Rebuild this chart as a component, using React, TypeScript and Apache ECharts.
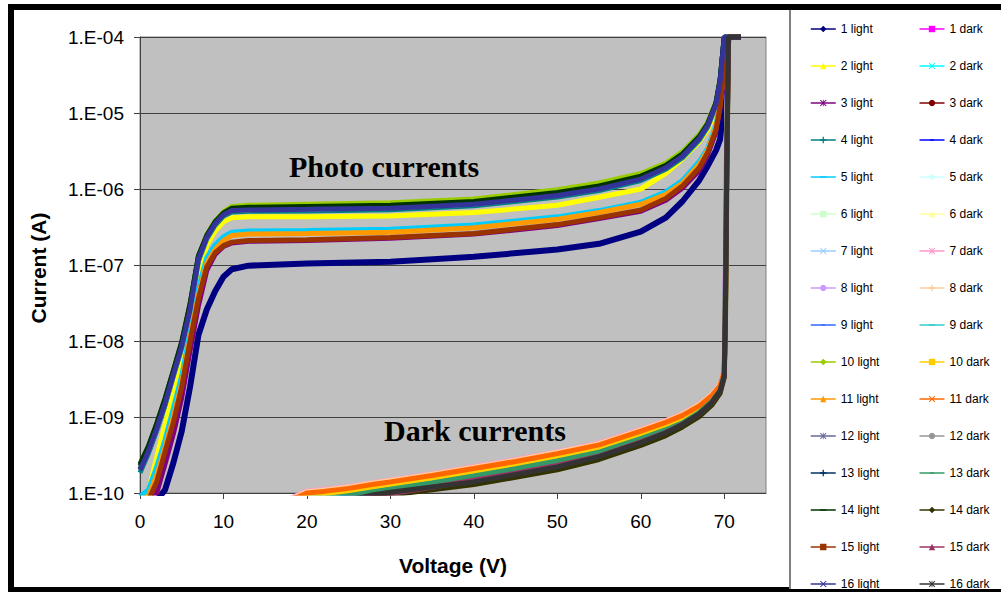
import React, { useEffect, useRef } from 'react';
import * as echarts from 'echarts';

// Voltage samples (V)
const lightV = [0, 1, 2, 3, 4, 5, 6, 7, 8, 9, 10, 11, 13, 20, 30, 40, 50, 55, 60, 63, 65, 67, 68, 69, 69.5, 70, 70.5, 72];
const darkV = [18, 20, 22, 25, 28, 30, 35, 40, 45, 50, 55, 60, 63, 65, 67, 68.5, 69.5, 70, 70.15, 70.3, 70.5, 72];

// Photo (light) currents, A
const light1 = [5e-11, 6e-11, 8e-11, 1.1e-10, 2.5e-10, 6.5e-10, 2.5e-9, 1.2e-8, 2.6e-8, 4.5e-8, 7e-8, 8.8e-8, 9.8e-8, 1.05e-7, 1.1e-7, 1.28e-7, 1.6e-7, 1.9e-7, 2.75e-7, 4.2e-7, 6.9e-7, 1.3e-6, 2e-6, 3.2e-6, 4.5e-6, 1.5e-5, 1e-4, 1e-4];
const light2 = [8e-11, 1.05e-10, 3e-10, 8e-10, 2.2e-9, 6e-9, 2e-8, 8e-8, 1.8e-7, 2.8e-7, 3.7e-7, 4.2e-7, 4.3e-7, 4.3e-7, 4.4e-7, 4.9e-7, 6.1e-7, 7.8e-7, 1e-6, 1.6e-6, 2.5e-6, 4.2e-6, 6e-6, 1.1e-5, 2.2e-5, 8e-5, 1e-4, 1e-4];
const light3 = [6e-11, 7e-11, 1e-10, 2.4e-10, 6e-10, 1.8e-9, 7.5e-9, 2.9e-8, 8.5e-8, 1.38e-7, 1.75e-7, 1.95e-7, 2.05e-7, 2.1e-7, 2.25e-7, 2.55e-7, 3.3e-7, 4.1e-7, 5.1e-7, 7.1e-7, 1.03e-6, 1.75e-6, 2.8e-6, 5.6e-6, 1.15e-5, 3.8e-5, 1e-4, 1e-4];
const light4 = [1.85e-10, 3.3e-10, 6.6e-10, 1.42e-9, 3.45e-9, 8.1e-9, 2.5e-8, 1.13e-7, 2.2e-7, 3.33e-7, 4.4e-7, 4.98e-7, 5.08e-7, 5.15e-7, 5.35e-7, 6.02e-7, 7.83e-7, 9.55e-7, 1.29e-6, 1.82e-6, 2.58e-6, 4.4e-6, 6.5e-6, 1.24e-5, 2.48e-5, 1e-4, 1e-4, 1e-4];
const light5 = [9e-11, 1.1e-10, 2.2e-10, 5e-10, 1.3e-9, 3.5e-9, 1.3e-8, 5e-8, 1.25e-7, 1.85e-7, 2.35e-7, 2.7e-7, 2.8e-7, 2.85e-7, 2.95e-7, 3.35e-7, 4.3e-7, 5.2e-7, 6.7e-7, 9.2e-7, 1.3e-6, 2.3e-6, 3.4e-6, 6.9e-6, 1.4e-5, 4.4e-5, 1e-4, 1e-4];
const light6 = [2.05e-10, 3.6e-10, 7.2e-10, 1.55e-9, 3.7e-9, 8.7e-9, 2.65e-8, 1.23e-7, 2.35e-7, 3.57e-7, 4.7e-7, 5.3e-7, 5.4e-7, 5.5e-7, 5.72e-7, 6.42e-7, 8.4e-7, 1.02e-6, 1.38e-6, 1.94e-6, 2.76e-6, 4.7e-6, 6.9e-6, 1.32e-5, 2.65e-5, 1e-4, 1e-4, 1e-4];
const light7 = [2.05e-10, 3.55e-10, 7.1e-10, 1.52e-9, 3.65e-9, 8.6e-9, 2.62e-8, 1.21e-7, 2.32e-7, 3.53e-7, 4.65e-7, 5.25e-7, 5.35e-7, 5.45e-7, 5.66e-7, 6.36e-7, 8.3e-7, 1.01e-6, 1.37e-6, 1.92e-6, 2.73e-6, 4.65e-6, 6.85e-6, 1.31e-5, 2.62e-5, 1e-4, 1e-4, 1e-4];
const light8 = [2.08e-10, 3.62e-10, 7.25e-10, 1.56e-9, 3.72e-9, 8.75e-9, 2.68e-8, 1.24e-7, 2.36e-7, 3.58e-7, 4.72e-7, 5.32e-7, 5.42e-7, 5.52e-7, 5.75e-7, 6.45e-7, 8.45e-7, 1.03e-6, 1.39e-6, 1.95e-6, 2.78e-6, 4.72e-6, 6.95e-6, 1.33e-5, 2.66e-5, 1e-4, 1e-4, 1e-4];
const light9 = [2.1e-10, 3.6e-10, 7.1e-10, 1.55e-9, 3.7e-9, 8.7e-9, 2.7e-8, 1.22e-7, 2.35e-7, 3.6e-7, 4.7e-7, 5.35e-7, 5.45e-7, 5.55e-7, 5.8e-7, 6.5e-7, 8.5e-7, 1.04e-6, 1.4e-6, 1.95e-6, 2.8e-6, 4.7e-6, 6.9e-6, 1.32e-5, 2.65e-5, 1e-4, 1e-4, 1e-4];
const light10 = [2.2e-10, 3.8e-10, 7.5e-10, 1.6e-9, 3.8e-9, 9e-9, 2.8e-8, 1.3e-7, 2.5e-7, 3.8e-7, 5e-7, 5.9e-7, 6.1e-7, 6.3e-7, 6.6e-7, 7.4e-7, 9.8e-7, 1.2e-6, 1.6e-6, 2.2e-6, 3.1e-6, 5.2e-6, 7.5e-6, 1.4e-5, 2.8e-5, 1e-4, 1e-4, 1e-4];
const light11 = [8e-11, 9e-11, 1.7e-10, 4e-10, 1e-9, 2.8e-9, 1.1e-8, 4e-8, 1.05e-7, 1.6e-7, 2.1e-7, 2.45e-7, 2.55e-7, 2.6e-7, 2.7e-7, 3.1e-7, 4e-7, 4.9e-7, 6.3e-7, 8.5e-7, 1.2e-6, 2.1e-6, 3.2e-6, 6.5e-6, 1.3e-5, 4e-5, 1e-4, 1e-4];
const light12 = [2.1e-10, 3.7e-10, 7.3e-10, 1.6e-9, 3.8e-9, 8.9e-9, 2.75e-8, 1.24e-7, 2.35e-7, 3.55e-7, 4.65e-7, 5.3e-7, 5.4e-7, 5.5e-7, 5.7e-7, 6.4e-7, 8.3e-7, 1.02e-6, 1.38e-6, 1.92e-6, 2.75e-6, 4.65e-6, 6.9e-6, 1.3e-5, 2.6e-5, 1e-4, 1e-4, 1e-4];
const light13 = [2.3e-10, 4e-10, 8e-10, 1.7e-9, 4e-9, 9.5e-9, 3e-8, 1.3e-7, 2.4e-7, 3.6e-7, 4.7e-7, 5.3e-7, 5.4e-7, 5.5e-7, 5.7e-7, 6.4e-7, 8.3e-7, 1.03e-6, 1.38e-6, 1.93e-6, 2.77e-6, 4.7e-6, 7e-6, 1.35e-5, 2.7e-5, 1e-4, 1e-4, 1e-4];
const light14 = [2.4e-10, 4.1e-10, 8.2e-10, 1.75e-9, 4.1e-9, 9.8e-9, 3.1e-8, 1.32e-7, 2.45e-7, 3.7e-7, 4.85e-7, 5.6e-7, 5.75e-7, 5.9e-7, 6.1e-7, 6.85e-7, 9e-7, 1.1e-6, 1.48e-6, 2.05e-6, 2.9e-6, 4.9e-6, 7.2e-6, 1.35e-5, 2.7e-5, 1e-4, 1e-4, 1e-4];
const light15 = [7e-11, 8e-11, 1.4e-10, 3.5e-10, 8.5e-10, 2.5e-9, 1e-8, 3.6e-8, 9.5e-8, 1.45e-7, 1.8e-7, 2e-7, 2.1e-7, 2.15e-7, 2.3e-7, 2.6e-7, 3.4e-7, 4.2e-7, 5.3e-7, 7.5e-7, 1.1e-6, 1.9e-6, 3e-6, 6e-6, 1.2e-5, 4e-5, 1e-4, 1e-4];
const light16 = [2e-10, 3.5e-10, 7e-10, 1.5e-9, 3.6e-9, 8.5e-9, 2.6e-8, 1.2e-7, 2.3e-7, 3.5e-7, 4.6e-7, 5.2e-7, 5.3e-7, 5.4e-7, 5.6e-7, 6.3e-7, 8.2e-7, 1e-6, 1.35e-6, 1.9e-6, 2.7e-6, 4.6e-6, 6.8e-6, 1.3e-5, 2.6e-5, 1e-4, 1e-4, 1e-4];

// Dark currents, A
const dark1 = [8.2e-11, 1.02e-10, 1.07e-10, 1.17e-10, 1.33e-10, 1.43e-10, 1.73e-10, 2.14e-10, 2.65e-10, 3.37e-10, 4.39e-10, 6.63e-10, 8.67e-10, 1.07e-9, 1.43e-9, 1.94e-9, 2.65e-9, 4.1e-9, 1e-7, 8e-6, 1e-4, 1e-4];
const dark2 = [7.8e-11, 9.8e-11, 1.03e-10, 1.13e-10, 1.27e-10, 1.37e-10, 1.67e-10, 2.06e-10, 2.55e-10, 3.23e-10, 4.21e-10, 6.37e-10, 8.33e-10, 1.03e-9, 1.37e-9, 1.86e-9, 2.55e-9, 3.9e-9, 7e-8, 5e-6, 1e-4, 1e-4];
const dark3 = [5.8e-11, 7.2e-11, 7.6e-11, 8.3e-11, 9.4e-11, 1.01e-10, 1.22e-10, 1.51e-10, 1.87e-10, 2.38e-10, 3.1e-10, 4.75e-10, 6.4e-10, 8.1e-10, 1.11e-9, 1.56e-9, 2.2e-9, 3.5e-9, 5e-8, 3e-6, 1e-4, 1e-4];
const dark4 = [6.2e-11, 7.7e-11, 8.1e-11, 8.9e-11, 1e-10, 1.08e-10, 1.31e-10, 1.62e-10, 2e-10, 2.54e-10, 3.3e-10, 5e-10, 6.6e-10, 8.3e-10, 1.13e-9, 1.58e-9, 2.25e-9, 3.6e-9, 3e-8, 2e-6, 1e-4, 1e-4];
const dark5 = [7.2e-11, 9e-11, 9.5e-11, 1.04e-10, 1.17e-10, 1.26e-10, 1.53e-10, 1.89e-10, 2.34e-10, 2.97e-10, 3.87e-10, 5.85e-10, 7.65e-10, 9.45e-10, 1.26e-9, 1.71e-9, 2.34e-9, 3.6e-9, 5e-8, 6e-6, 1e-4, 1e-4];
const dark6 = [7.7e-11, 9.6e-11, 1.01e-10, 1.1e-10, 1.25e-10, 1.34e-10, 1.63e-10, 2.02e-10, 2.5e-10, 3.17e-10, 4.13e-10, 6.24e-10, 8.16e-10, 1.01e-9, 1.34e-9, 1.82e-9, 2.5e-9, 3.8e-9, 3e-8, 1.5e-6, 1e-4, 1e-4];
const dark7 = [8.5e-11, 1.06e-10, 1.11e-10, 1.22e-10, 1.38e-10, 1.48e-10, 1.8e-10, 2.23e-10, 2.76e-10, 3.5e-10, 4.56e-10, 6.9e-10, 9e-10, 1.11e-9, 1.48e-9, 2e-9, 2.7e-9, 4.2e-9, 6e-8, 4e-6, 1e-4, 1e-4];
const dark8 = [8.3e-11, 1.04e-10, 1.09e-10, 1.2e-10, 1.35e-10, 1.46e-10, 1.77e-10, 2.18e-10, 2.7e-10, 3.43e-10, 4.47e-10, 6.76e-10, 8.84e-10, 1.09e-9, 1.46e-9, 1.98e-9, 2.7e-9, 4.1e-9, 4e-8, 2e-6, 1e-4, 1e-4];
const dark9 = [6.8e-11, 8.5e-11, 8.9e-11, 9.8e-11, 1.1e-10, 1.19e-10, 1.45e-10, 1.79e-10, 2.21e-10, 2.8e-10, 3.66e-10, 5.5e-10, 7.2e-10, 8.9e-10, 1.19e-9, 1.62e-9, 2.3e-9, 3.6e-9, 4e-8, 2.5e-6, 1e-4, 1e-4];
const dark10 = [7.4e-11, 9.2e-11, 9.7e-11, 1.06e-10, 1.2e-10, 1.29e-10, 1.56e-10, 1.93e-10, 2.39e-10, 3.04e-10, 3.96e-10, 5.98e-10, 7.82e-10, 9.7e-10, 1.29e-9, 1.75e-9, 2.4e-9, 3.7e-9, 2e-8, 3e-6, 1e-4, 1e-4];
const dark11 = [8e-11, 1e-10, 1.05e-10, 1.15e-10, 1.3e-10, 1.4e-10, 1.7e-10, 2.1e-10, 2.6e-10, 3.3e-10, 4.3e-10, 6.5e-10, 8.5e-10, 1.05e-9, 1.4e-9, 1.9e-9, 2.6e-9, 4e-9, 5e-8, 3e-6, 1e-4, 1e-4];
const dark12 = [6e-11, 7.5e-11, 7.9e-11, 8.6e-11, 9.8e-11, 1.05e-10, 1.28e-10, 1.58e-10, 1.95e-10, 2.48e-10, 3.23e-10, 4.9e-10, 6.5e-10, 8.2e-10, 1.12e-9, 1.57e-9, 2.22e-9, 3.5e-9, 8e-8, 6e-6, 1e-4, 1e-4];
const dark13 = [6.4e-11, 8e-11, 8.4e-11, 9.2e-11, 1.04e-10, 1.12e-10, 1.36e-10, 1.68e-10, 2.08e-10, 2.64e-10, 3.44e-10, 5.2e-10, 6.8e-10, 8.4e-10, 1.15e-9, 1.6e-9, 2.25e-9, 3.6e-9, 6e-8, 4e-6, 1e-4, 1e-4];
const dark14 = [4.6e-11, 5.5e-11, 6.4e-11, 7.4e-11, 8.7e-11, 9.4e-11, 1.1e-10, 1.29e-10, 1.61e-10, 2.02e-10, 2.76e-10, 4.23e-10, 5.7e-10, 7.4e-10, 1.01e-9, 1.43e-9, 2.05e-9, 3.3e-9, 2e-8, 1e-6, 1e-4, 1e-4];
const dark15 = [5.6e-11, 7e-11, 7.4e-11, 8.1e-11, 9.1e-11, 9.8e-11, 1.19e-10, 1.47e-10, 1.82e-10, 2.31e-10, 3.05e-10, 4.7e-10, 6.3e-10, 8.05e-10, 1.1e-9, 1.55e-9, 2.2e-9, 3.5e-9, 4e-8, 2.5e-6, 1e-4, 1e-4];
const dark16 = [5e-11, 6e-11, 7e-11, 8e-11, 9.5e-11, 1.02e-10, 1.2e-10, 1.4e-10, 1.75e-10, 2.2e-10, 3e-10, 4.6e-10, 6.2e-10, 8e-10, 1.1e-9, 1.55e-9, 2.2e-9, 3.5e-9, 3e-8, 2e-6, 1e-4, 1e-4];

const lightSets = [light1, light2, light3, light4, light5, light6, light7, light8, light9, light10, light11, light12, light13, light14, light15, light16];
const darkSets = [dark1, dark2, dark3, dark4, dark5, dark6, dark7, dark8, dark9, dark10, dark11, dark12, dark13, dark14, dark15, dark16];

const lightColors = ['#000080', '#FFFF00', '#800080', '#008080', '#00CCFF', '#CCFFCC', '#99CCFF', '#CC99FF', '#3366FF', '#99CC00', '#FF9900', '#666699', '#003366', '#003300', '#993300', '#333399'];
const darkColors = ['#FF00FF', '#00FFFF', '#800000', '#0000FF', '#CCFFFF', '#FFFF99', '#FF99CC', '#FFCC99', '#33CCCC', '#FFCC00', '#FF6600', '#969696', '#339966', '#333300', '#993366', '#333333'];

const yTickLabels = ['1.E-10', '1.E-09', '1.E-08', '1.E-07', '1.E-06', '1.E-05', '1.E-04'];

const SYM_X = 'path://M1,0L5,4L9,0L10,1L6,5L10,9L9,10L5,6L1,10L0,9L4,5L0,1Z';
const SYM_STAR = 'path://M1,0L5,4L9,0L10,1L6,5L10,9L9,10L5,6L1,10L0,9L4,5L0,1ZM4.4,0H5.6V10H4.4Z';
const SYM_PLUS = 'path://M4,0H6V4H10V6H6V10H4V6H0V4H4Z';
const SYM_DASH = 'path://M0,0L0,0M2,4H8V6H2ZM10,10L10,10';
const SYM_LDASH = 'path://M0,0L0,0M0,4H10V6H0ZM10,10L10,10';
const markerCycle = ['diamond', 'rect', 'triangle', SYM_X, SYM_STAR, 'circle', SYM_PLUS, SYM_DASH, SYM_LDASH];

const SANS = '"Liberation Sans", Arial, sans-serif';
const SERIF = '"Liberation Serif", "Times New Roman", serif';

export default function App() {
  const ref = useRef<HTMLDivElement>(null);

  useEffect(() => {
    if (!ref.current) return;
    const chart = echarts.init(ref.current, undefined, { renderer: 'svg' });

    const series: any[] = [];
    for (let n = 0; n < 16; n++) {
      const li = 2 * n;
      const di = 2 * n + 1;
      series.push({
        type: 'line',
        name: `${n + 1} light`,
        data: lightV.map((v, i) => [v, lightSets[n][i]]),
        showSymbol: false,
        symbol: markerCycle[li % 9],
        symbolSize: 6,
        color: lightColors[n],
        lineStyle: { width: n === 0 ? 6 : 5, color: lightColors[n] },
        itemStyle: { color: lightColors[n] },
        clip: true,
        silent: true,
        emphasis: { disabled: true },
      });
      series.push({
        type: 'line',
        name: `${n + 1} dark`,
        data: darkV.map((v, i) => [v, darkSets[n][i]]),
        showSymbol: false,
        symbol: markerCycle[di % 9],
        symbolSize: 6,
        color: darkColors[n],
        lineStyle: { width: 5, color: darkColors[n] },
        itemStyle: { color: darkColors[n] },
        clip: true,
        silent: true,
        emphasis: { disabled: true },
      });
    }

    const option: any = {
      animation: false,
      backgroundColor: '#ffffff',
      grid: {
        left: 140,
        top: 37,
        width: 626,
        height: 456,
        show: true,
        backgroundColor: '#C0C0C0',
        borderColor: '#808080',
        borderWidth: 1,
        containLabel: false,
        outerBoundsMode: 'none',
      },
      xAxis: {
        type: 'value',
        min: 0,
        max: 75,
        interval: 10,
        axisLine: { show: true, onZero: false, lineStyle: { color: '#404040', width: 1 } },
        axisTick: { show: true, length: 6, lineStyle: { color: '#404040', width: 1 } },
        axisLabel: { showMaxLabel: false, margin: 19, fontSize: 19, color: '#000', fontFamily: SANS },
        splitLine: { show: false },
      },
      yAxis: {
        type: 'log',
        logBase: 10,
        min: 1e-10,
        max: 1e-4,
        splitNumber: 6,
        axisLine: { show: true, lineStyle: { color: '#404040', width: 1 } },
        axisTick: { show: true, length: 6, lineStyle: { color: '#404040', width: 1 } },
        axisLabel: {
          margin: 16,
          fontSize: 19,
          color: '#000',
          fontFamily: SANS,
          formatter: (v: number) => yTickLabels[Math.round(Math.log10(v)) + 10] ?? '',
        },
        splitLine: { show: true, lineStyle: { color: '#404040', width: 1 } },
        minorTick: { show: false },
        minorSplitLine: { show: false },
      },
      legend: {
        show: true,
        orient: 'horizontal',
        left: 810,
        top: 23,
        width: 200,
        padding: 0,
        itemWidth: 25,
        itemHeight: 8,
        itemGap: 25,
        selectedMode: false,
        textStyle: { fontSize: 12, fontFamily: SANS, color: '#000', width: 53, lineHeight: 12 },
        lineStyle: { width: 1.5 },
      },
      graphic: [
        {
          type: 'text', x: 384, y: 166, silent: true,
          style: { text: 'Photo currents', font: `bold 30px ${SERIF}`, fill: '#000', align: 'center', verticalAlign: 'middle', textAlign: 'center', textVerticalAlign: 'middle' },
        },
        {
          type: 'text', x: 475, y: 430, silent: true,
          style: { text: 'Dark currents', font: `bold 30px ${SERIF}`, fill: '#000', align: 'center', verticalAlign: 'middle', textAlign: 'center', textVerticalAlign: 'middle' },
        },
        {
          type: 'text', x: 453, y: 565, silent: true,
          style: { text: 'Voltage (V)', font: `bold 21px ${SANS}`, fill: '#000', align: 'center', verticalAlign: 'middle', textAlign: 'center', textVerticalAlign: 'middle' },
        },
        {
          type: 'text', x: 38, y: 268, rotation: Math.PI / 2, silent: true,
          style: { text: 'Current (A)', font: `bold 21px ${SANS}`, fill: '#000', align: 'center', verticalAlign: 'middle', textAlign: 'center', textVerticalAlign: 'middle' },
        },
        { type: 'rect', z: 100, silent: true, shape: { x: 8, y: 4, width: 6, height: 588 }, style: { fill: '#000' } },
        { type: 'rect', z: 100, silent: true, shape: { x: 8, y: 4, width: 993, height: 6 }, style: { fill: '#000' } },
        { type: 'rect', z: 100, silent: true, shape: { x: 8, y: 587, width: 782, height: 5 }, style: { fill: '#000' } },
        { type: 'rect', z: 100, silent: true, shape: { x: 790, y: 589, width: 211, height: 3 }, style: { fill: '#000' } },
        { type: 'rect', z: 100, silent: true, shape: { x: 789, y: 10, width: 2, height: 579 }, style: { fill: '#808080' } },
      ],
      series,
    };

    chart.setOption(option);
    return () => {
      chart.dispose();
    };
  }, []);

  return (
    <div
      ref={ref}
      style={{ position: 'fixed', left: 0, top: 0, width: 1001, height: 592, background: '#fff' }}
    />
  );
}
